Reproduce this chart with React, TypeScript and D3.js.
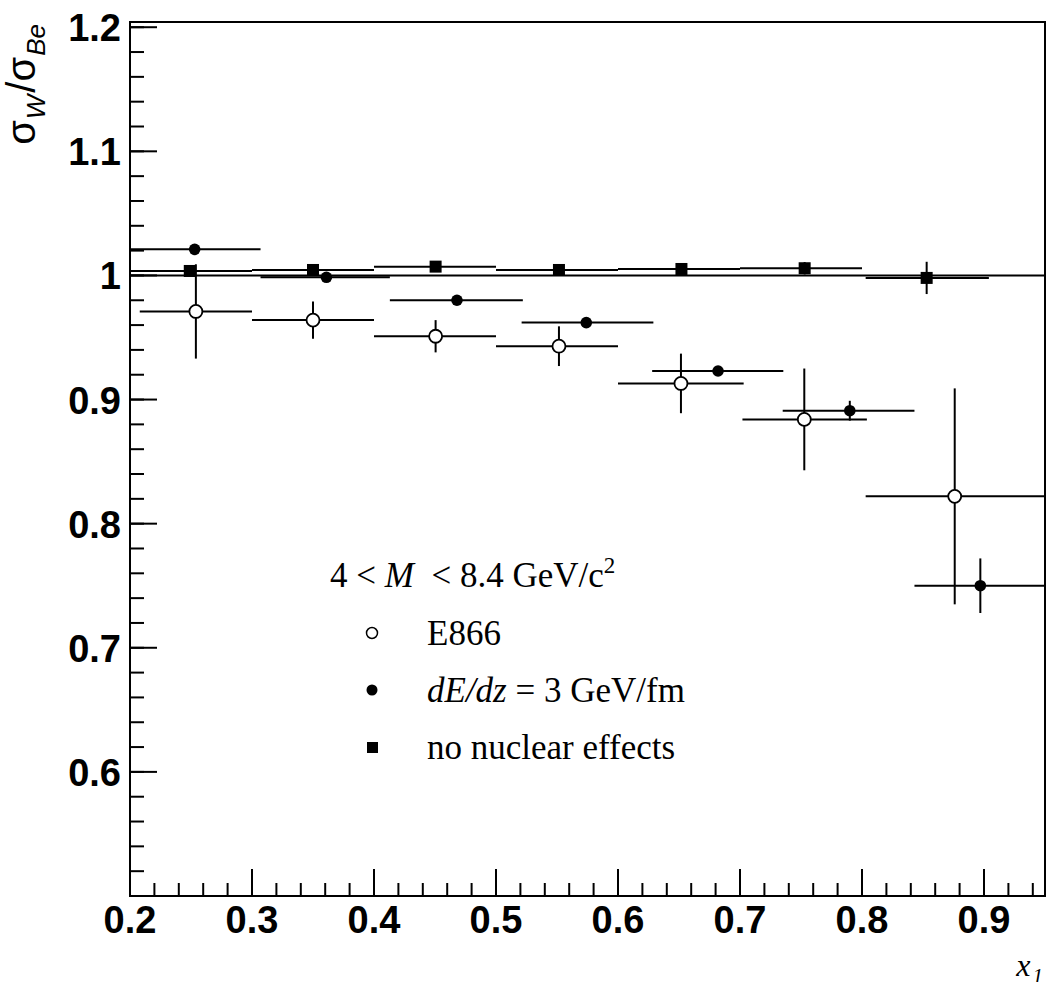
import React from "react";
import * as d3 from "d3";

// E866 data (open circles)
const e866X = [0.254, 0.350, 0.4505, 0.5516, 0.6516, 0.7527, 0.876];
const e866Y = [0.971, 0.964, 0.951, 0.943, 0.913, 0.884, 0.822];
const e866Err = [0.038, 0.015, 0.013, 0.016, 0.024, 0.041, 0.087];
const e866Lo = [0.208, 0.3, 0.4, 0.5, 0.6, 0.702, 0.803];
const e866Hi = [0.3, 0.4, 0.5, 0.6, 0.703, 0.804, 0.95];

// dE/dz = 3 GeV/fm (filled circles)
const elossX = [0.253, 0.361, 0.468, 0.574, 0.682, 0.790, 0.897];
const elossY = [1.021, 0.9985, 0.980, 0.962, 0.923, 0.891, 0.750];
const elossErr = [0.002, 0.002, 0.002, 0.002, 0.004, 0.008, 0.022];
const elossLo = [0.2, 0.307, 0.413, 0.521, 0.628, 0.735, 0.843];
const elossHi = [0.307, 0.413, 0.522, 0.629, 0.7355, 0.843, 0.95];

// no nuclear effects (squares)
const noneX = [0.249, 0.350, 0.4505, 0.5516, 0.652, 0.753, 0.853];
const noneY = [1.0036, 1.0044, 1.0071, 1.0044, 1.0052, 1.0058, 0.998];
const noneErr = [0.001, 0.001, 0.001, 0.001, 0.002, 0.005, 0.013];
const noneLo = [0.2, 0.3, 0.4, 0.5, 0.6, 0.7, 0.803];
const noneHi = [0.3, 0.4, 0.5, 0.6, 0.7, 0.8, 0.904];

const xMajor = [0.2, 0.3, 0.4, 0.5, 0.6, 0.7, 0.8, 0.9];
const xMajorLabels = ["0.2", "0.3", "0.4", "0.5", "0.6", "0.7", "0.8", "0.9"];
const yMajor = [0.6, 0.7, 0.8, 0.9, 1.0, 1.1, 1.2];
const yMajorLabels = ["0.6", "0.7", "0.8", "0.9", "1", "1.1", "1.2"];

const W = 1049;
const H = 982;
const L = 130, R = 1045, T = 22, B = 896;

export default function App() {
  const x = d3.scaleLinear().domain([0.2, 0.95]).range([L, R]);
  const y = d3.scaleLinear().domain([0.5, 1.2042]).range([B, T]);

  const xMinor = d3.range(0, 38).map((i) => 0.2 + i * 0.02).filter((v) => v <= 0.95);
  const yMinor = d3.range(0, 36).map((i) => 0.5 + i * 0.02).filter((v) => v <= 1.2042);

  const tickFont = "'Liberation Sans', Arial, Helvetica, sans-serif";
  const serif = "'Liberation Serif', 'Times New Roman', serif";
  const sw = 2;

  const errBars = (xs: number[], ys: number[], es: number[], lo: number[], hi: number[], key: string) =>
    xs.map((xv, i) => (
      <g key={key + i} stroke="#000" strokeWidth={sw}>
        <line x1={x(lo[i])} x2={x(hi[i])} y1={y(ys[i])} y2={y(ys[i])} />
        <line x1={x(xv)} x2={x(xv)} y1={y(ys[i] - es[i])} y2={y(ys[i] + es[i])} />
      </g>
    ));

  return (
    <svg width={W} height={H} style={{ display: "block", position: "absolute", left: 0, top: 0, background: "#fff" }}>
      <rect x={0} y={0} width={W} height={H} fill="#fff" />
      {/* frame */}
      <rect x={L} y={T} width={R - L} height={B - T} fill="none" stroke="#000" strokeWidth={2} />

      {/* x ticks */}
      {xMinor.map((v, i) => (
        <line key={"xm" + i} x1={x(v)} x2={x(v)} y1={B} y2={B - 13} stroke="#000" strokeWidth={2} />
      ))}
      {xMajor.map((v, i) => (
        <line key={"xM" + i} x1={x(v)} x2={x(v)} y1={B} y2={B - 27} stroke="#000" strokeWidth={2} />
      ))}
      {xMajor.map((v, i) => (
        <text key={"xl" + i} x={x(v)} y={933} textAnchor="middle" fontFamily={tickFont} fontWeight="bold" fontSize={38} fill="#000">
          {xMajorLabels[i]}
        </text>
      ))}

      {/* y ticks */}
      {yMinor.map((v, i) => (
        <line key={"ym" + i} x1={L} x2={L + 14} y1={y(v)} y2={y(v)} stroke="#000" strokeWidth={2} />
      ))}
      {yMajor.map((v, i) => (
        <line key={"yM" + i} x1={L} x2={L + 27} y1={y(v)} y2={y(v)} stroke="#000" strokeWidth={2} />
      ))}
      {yMajor.map((v, i) => (
        <text key={"yl" + i} x={121} y={y(v) + 14} textAnchor="end" fontFamily={tickFont} fontWeight="bold" fontSize={38} fill="#000">
          {yMajorLabels[i]}
        </text>
      ))}

      {/* reference line at 1 */}
      <line x1={L} x2={R} y1={y(1)} y2={y(1)} stroke="#000" strokeWidth={2} />

      {/* error bars */}
      {errBars(noneX, noneY, noneErr, noneLo, noneHi, "n")}
      {errBars(elossX, elossY, elossErr, elossLo, elossHi, "e")}
      {errBars(e866X, e866Y, e866Err, e866Lo, e866Hi, "o")}

      {/* markers */}
      {noneX.map((xv, i) => (
        <rect key={"ns" + i} x={x(xv) - 6} y={y(noneY[i]) - 6} width={12} height={12} fill="#000" />
      ))}
      {elossX.map((xv, i) => (
        <circle key={"ec" + i} cx={x(xv)} cy={y(elossY[i])} r={5.8} fill="#000" />
      ))}
      {e866X.map((xv, i) => (
        <circle key={"oc" + i} cx={x(xv)} cy={y(e866Y[i])} r={6.5} fill="#fff" stroke="#000" strokeWidth={1.8} />
      ))}

      {/* legend */}
      <text x={330} y={587} fontFamily={serif} fontSize={35} fill="#000" style={{ whiteSpace: "pre" }}>
        4 &lt; <tspan fontStyle="italic">M</tspan>{"\u00A0 "}&lt; 8.4 GeV/c
        <tspan fontSize={23} dy={-14}>2</tspan>
      </text>
      <circle cx={372} cy={633} r={5.5} fill="#fff" stroke="#000" strokeWidth={1.5} />
      <text x={427} y={645} fontFamily={serif} fontSize={35} fill="#000">E866</text>
      <circle cx={372} cy={690} r={5.5} fill="#000" />
      <text x={427} y={702} fontFamily={serif} fontSize={35} fill="#000">
        <tspan fontStyle="italic">dE/dz</tspan> = 3 GeV/fm
      </text>
      <rect x={367} y={742} width={11} height={11} fill="#000" />
      <text x={427} y={759} fontFamily={serif} fontSize={35} fill="#000">no nuclear effects</text>

      {/* y axis title */}
      <text transform="translate(35,24) rotate(-90)" textAnchor="end" fontFamily={tickFont} fontSize={40} fill="#000">
        σ<tspan fontStyle="italic" fontSize={26} dy={10} dx={1}>W</tspan>
        <tspan dy={-10} dx={2}>/σ</tspan>
        <tspan fontStyle="italic" fontSize={26} dy={10} dx={1}>Be</tspan>
      </text>

      {/* x axis title */}
      <text x={1043} y={976} textAnchor="end" fontFamily={serif} fontStyle="italic" fontSize={32} fill="#000">
        x<tspan fontSize={21} dy={7} dx={2}>1</tspan>
      </text>
    </svg>
  );
}
